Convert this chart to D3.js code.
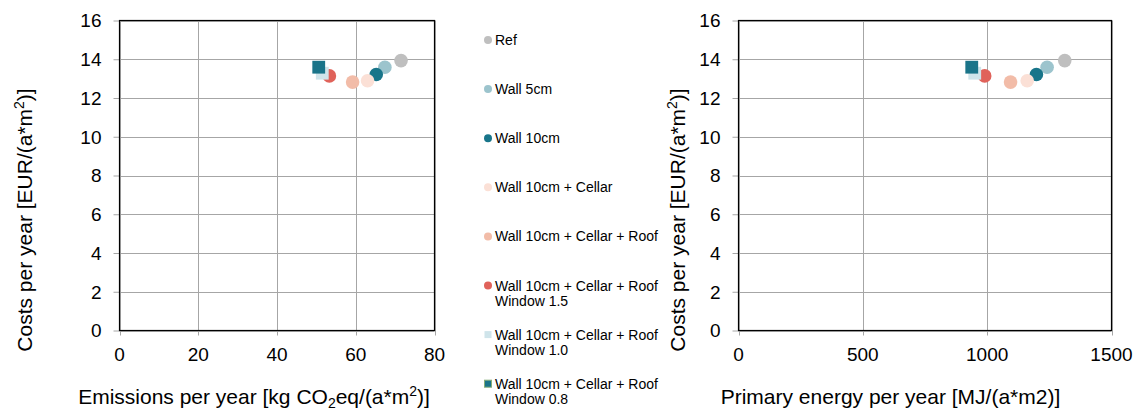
<!DOCTYPE html>
<html>
<head>
<meta charset="utf-8">
<script src="https://cdn.jsdelivr.net/npm/d3@7"></script>
<style>
  html, body { margin: 0; padding: 0; background: #ffffff; }
  svg { display: block; font-family: "Liberation Sans", Arial, sans-serif; }
</style>
</head>
<body>
<svg id="chart" width="1140" height="412"></svg>
<script>
// Renovation variants (legend order)
const variants = [
  ["Ref"],
  ["Wall 5cm"],
  ["Wall 10cm"],
  ["Wall 10cm + Cellar"],
  ["Wall 10cm + Cellar + Roof"],
  ["Wall 10cm + Cellar + Roof", "Window 1.5"],
  ["Wall 10cm + Cellar + Roof", "Window 1.0"],
  ["Wall 10cm + Cellar + Roof", "Window 0.8"]
];
const markerShapes = ["circle", "circle", "circle", "circle", "circle", "circle", "square", "square"];
const markerColors = ["#bfbfbf", "#9cc4cd", "#18758a", "#fbe0d6", "#f2bca8", "#e0625a", "#cfe4ea", "#1a7489"];

// Values per variant
const emissions = [71.5, 67.4, 65.2, 63.0, 59.2, 53.3, 51.5, 50.6];        // kg CO2eq/(a*m2)
const primaryEnergy = [1312, 1241, 1198, 1161, 1094, 990, 950, 938];       // MJ/(a*m2)
const costs = [13.93, 13.59, 13.21, 12.89, 12.82, 13.14, 13.28, 13.59];    // EUR/(a*m2)

// Axis ticks
const costTicks = [0, 2, 4, 6, 8, 10, 12, 14, 16];
const emissionTicks = [0, 20, 40, 60, 80];
const energyTicks = [0, 500, 1000, 1500];

const svg = d3.select("#chart");
const gridColor = "#a6a6a6";

const plotTop = 20.5, plotBottom = 330.5;
const y = d3.scaleLinear().domain([0, 16]).range([plotBottom, plotTop]);

function drawPanel(opts) {
  const x = d3.scaleLinear().domain(opts.xDomain).range([opts.left, opts.right]);
  const g = svg.append("g");

  // outward y ticks
  g.append("g")
    .attr("transform", `translate(${opts.left},0)`)
    .call(d3.axisLeft(y).tickValues(costTicks).tickSize(6).tickFormat(""))
    .call(s => s.select(".domain").remove())
    .call(s => s.selectAll("line").attr("stroke", gridColor));

  // horizontal grid
  g.append("g")
    .selectAll("line").data(costTicks).join("line")
    .attr("x1", opts.left).attr("x2", opts.right)
    .attr("y1", d => Math.round(y(d)) + 0.5).attr("y2", d => Math.round(y(d)) + 0.5)
    .attr("stroke", gridColor).attr("stroke-width", 1);

  // vertical grid + outward x ticks
  g.append("g")
    .selectAll("line").data(opts.xTicks).join("line")
    .attr("x1", d => Math.round(x(d)) + 0.5).attr("x2", d => Math.round(x(d)) + 0.5)
    .attr("y1", plotTop).attr("y2", plotBottom + 5)
    .attr("stroke", gridColor).attr("stroke-width", 1);

  // plot frame
  g.append("rect")
    .attr("x", opts.left).attr("y", plotTop)
    .attr("width", opts.right - opts.left).attr("height", plotBottom - plotTop)
    .attr("fill", "none").attr("stroke", "#000").attr("stroke-width", 1.2);

  // y tick labels
  g.append("g").selectAll("text").data(costTicks).join("text")
    .attr("x", opts.left - 18).attr("y", d => y(d))
    .attr("dy", "0.36em").attr("text-anchor", "end")
    .attr("font-size", 19).attr("fill", "#000")
    .text(d => d);

  // x tick labels
  g.append("g").selectAll("text").data(opts.xTicks).join("text")
    .attr("x", d => x(d)).attr("y", 361)
    .attr("text-anchor", "middle")
    .attr("font-size", 19).attr("fill", "#000")
    .text(d => d);

  // y title
  const yt = g.append("text")
    .attr("transform", `translate(${opts.yTitleX},220) rotate(-90)`)
    .attr("text-anchor", "middle").attr("font-size", 21).attr("fill", "#000");
  yt.append("tspan").text("Costs per year [EUR/(a*m");
  yt.append("tspan").attr("font-size", 14).attr("dy", -8).text("2");
  yt.append("tspan").attr("dy", 8).text(")]");

  // x title
  const xt = g.append("text")
    .attr("x", opts.xTitleX).attr("y", 404)
    .attr("text-anchor", "middle").attr("font-size", 21).attr("fill", "#000");
  opts.xTitle(xt);

  // markers
  const pts = g.append("g");
  opts.values.forEach((v, i) => {
    const cx = x(v), cy = y(costs[i]);
    if (markerShapes[i] === "circle") {
      pts.append("circle").attr("cx", cx).attr("cy", cy).attr("r", 6.8)
        .attr("fill", markerColors[i]);
    } else {
      const s = 12.8;
      pts.append("rect").attr("x", cx - s / 2).attr("y", cy - s / 2)
        .attr("width", s).attr("height", s).attr("fill", markerColors[i]);
    }
  });
}

drawPanel({
  left: 119.5, right: 434.5,
  xDomain: [0, 80], xTicks: emissionTicks, values: emissions,
  yTitleX: 31.5, xTitleX: 254,
  xTitle: t => {
    t.append("tspan").text("Emissions per year [kg CO");
    t.append("tspan").attr("font-size", 14).attr("dy", 4).text("2");
    t.append("tspan").attr("dy", -4).text("eq/(a*m");
    t.append("tspan").attr("font-size", 14).attr("dy", -8).text("2");
    t.append("tspan").attr("dy", 8).text(")]");
  }
});

drawPanel({
  left: 738.5, right: 1111.5,
  xDomain: [0, 1500], xTicks: energyTicks, values: primaryEnergy,
  yTitleX: 685, xTitleX: 890.5,
  xTitle: t => t.text("Primary energy per year [MJ/(a*m2)]")
});

// legend
const legend = svg.append("g").attr("transform", "translate(488,40)");
variants.forEach((lines, i) => {
  const row = legend.append("g").attr("transform", `translate(0,${i * 49.1})`);
  if (markerShapes[i] === "circle") {
    row.append("circle").attr("cx", 0).attr("cy", 0).attr("r", 4).attr("fill", markerColors[i]);
  } else {
    row.append("rect").attr("x", -3.5).attr("y", -3.5).attr("width", 7).attr("height", 7)
      .attr("fill", markerColors[i])
      .attr("stroke", i === 7 ? "#86ad78" : "none").attr("stroke-width", 1);
  }
  const t = row.append("text").attr("x", 7).attr("y", 0)
    .attr("font-size", 14).attr("fill", "#000");
  lines.forEach((ln, k) => {
    t.append("tspan").attr("x", 7).attr("dy", k === 0 ? "0.36em" : 15.6).text(ln);
  });
});
</script>
</body>
</html>
